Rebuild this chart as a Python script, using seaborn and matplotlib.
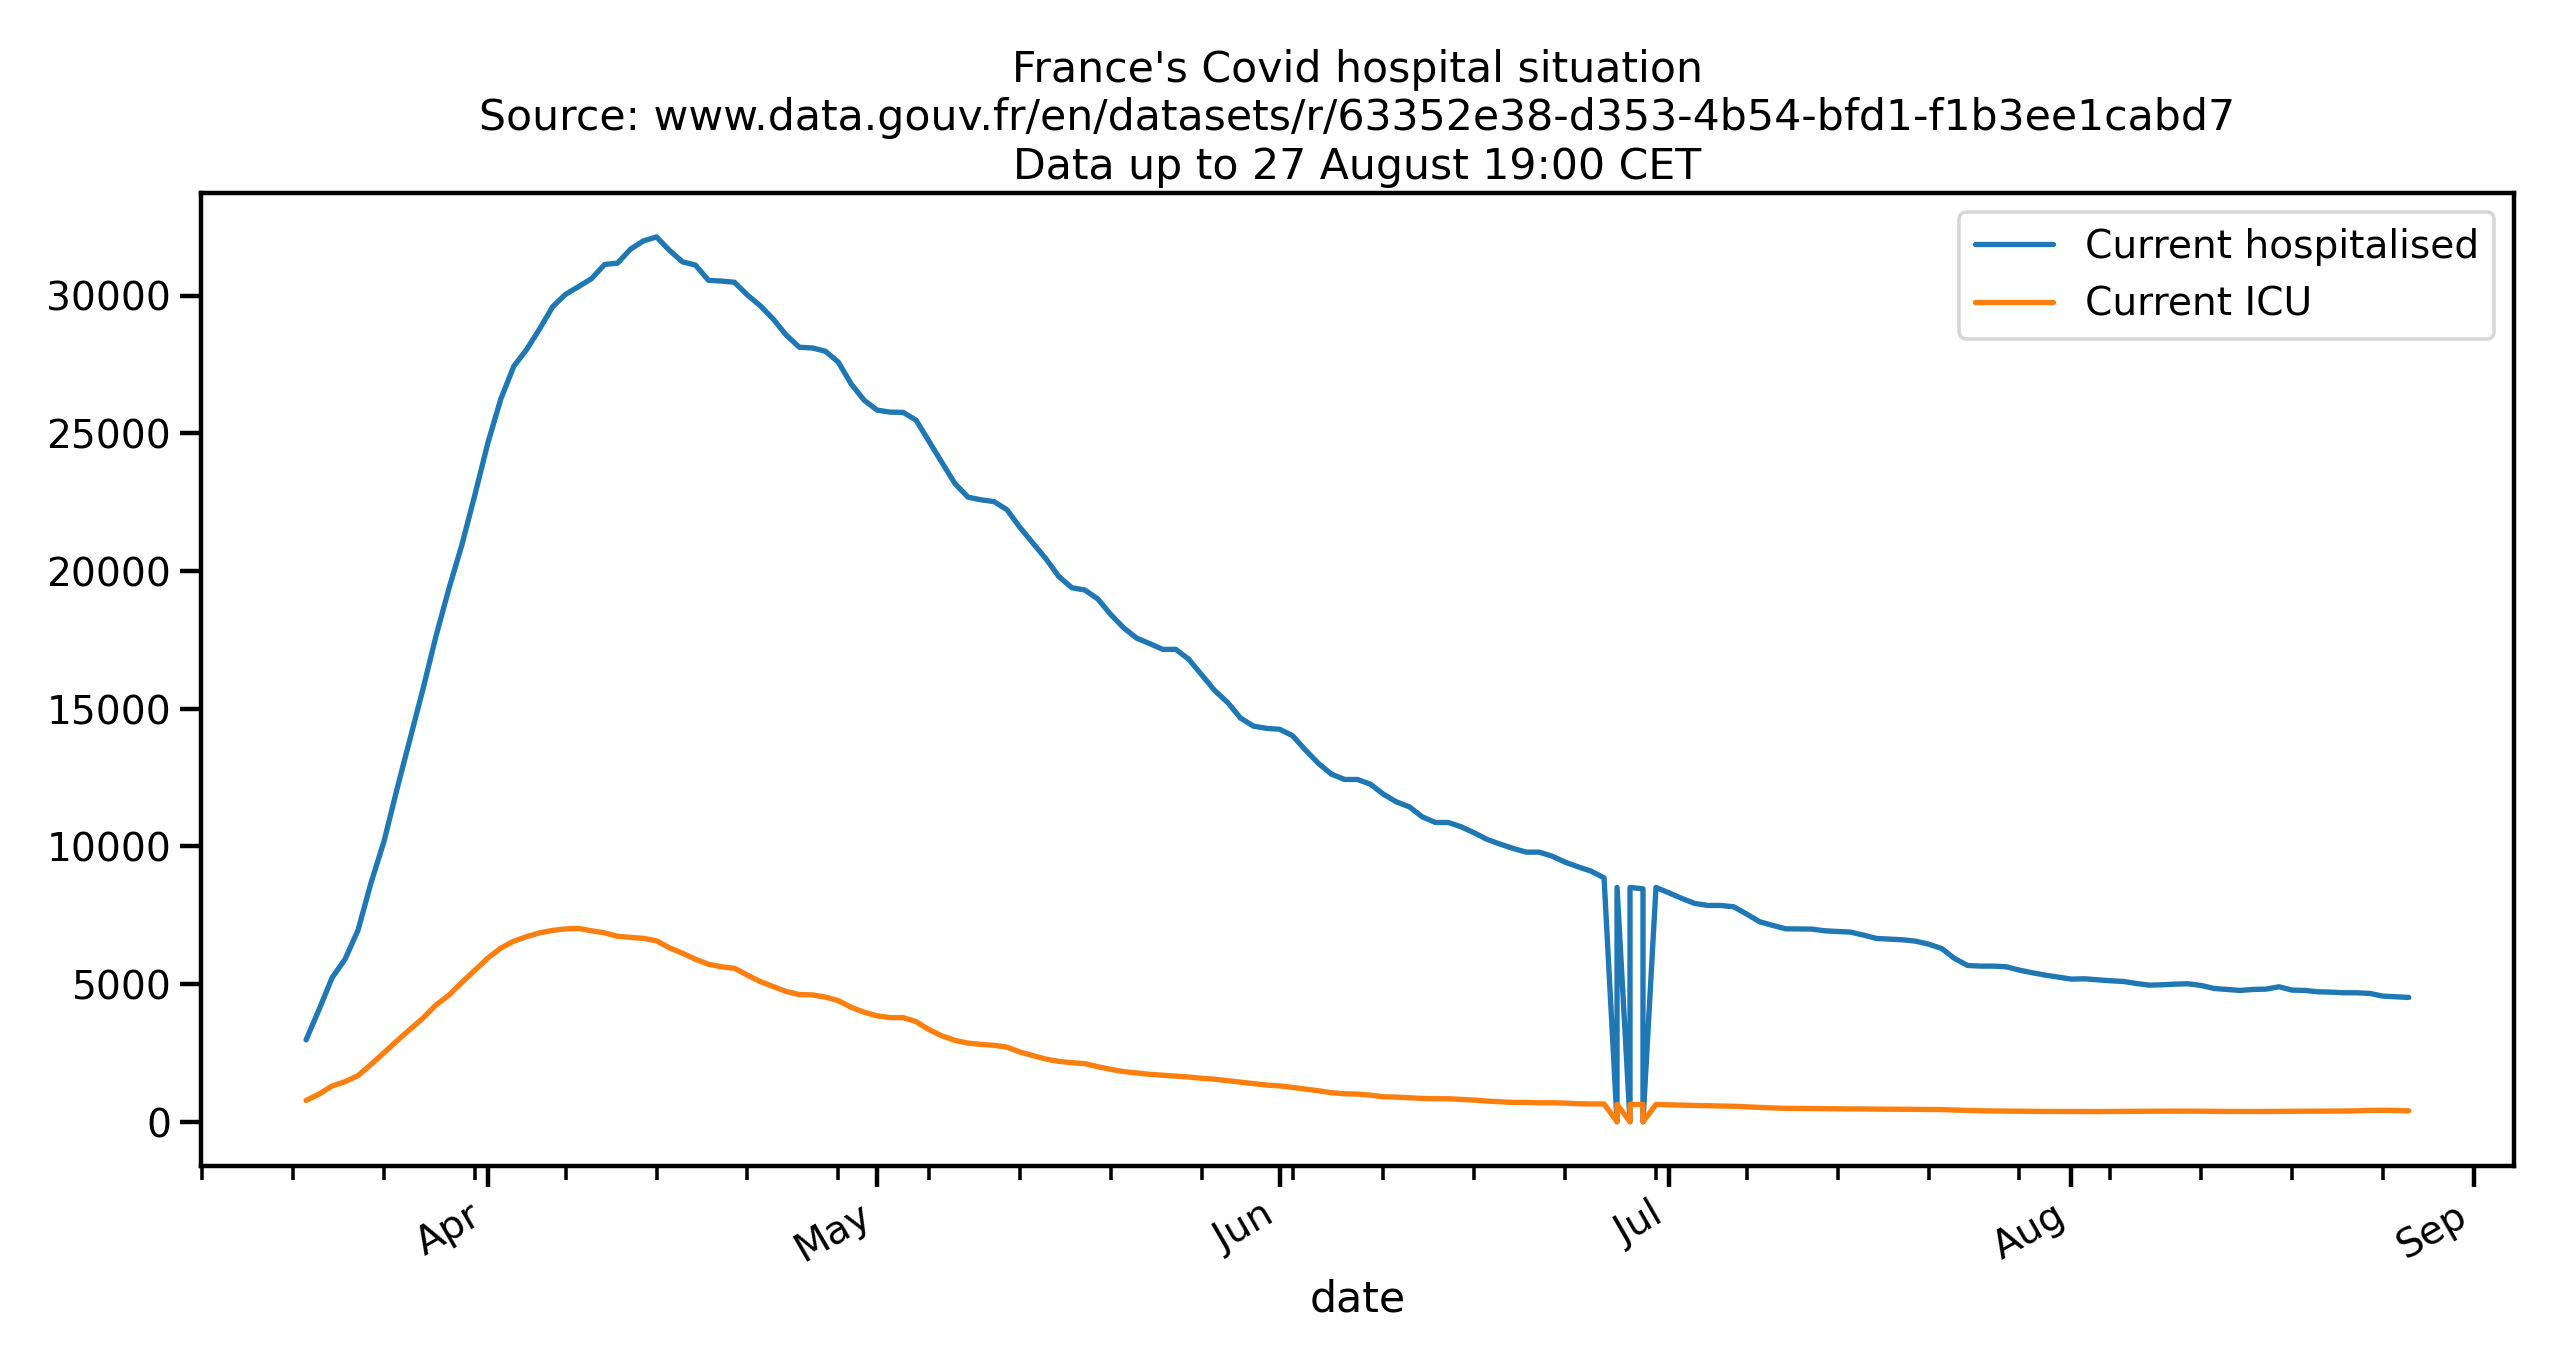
import matplotlib
matplotlib.use("Agg")
import matplotlib.pyplot as plt
import matplotlib.dates as mdates
import numpy as np
import pandas as pd
import seaborn as sns

# ---------------- data ----------------
start_date = "2020-03-18"
end_date = "2020-08-27"

# one value per day, 18 March -> 27 August 2020
hospitalised = [
    2972, 4073, 5226, 5900, 6954, 8673, 10176, 12072, 13879, 15701,
    17620, 19354, 20946, 22757, 24639, 26246, 27432, 28050, 28800, 29600,
    30050, 30330, 30620, 31133, 31182, 31690, 31990, 32131, 31641, 31227,
    31110, 30555, 30530, 30486, 30022, 29630, 29143, 28562, 28126, 28100,
    27984, 27588, 26790, 26200, 25840, 25770, 25760, 25475, 24700, 23930,
    23167, 22680, 22585, 22520, 22225, 21580, 21010, 20443, 19797, 19390,
    19310, 18983, 18417, 17930, 17559, 17363, 17153, 17153, 16797, 16230,
    15660, 15225, 14655, 14364, 14285, 14252, 14020, 13493, 13010, 12621,
    12429, 12429, 12258, 11895, 11616, 11434, 11071, 10867, 10867, 10708,
    10490, 10250, 10079, 9923, 9789, 9789, 9644, 9426, 9256, 9100,
    8856, 0, 0, 8457, 8507, 8312, 8107, 7925, 7853, 7853,
    7803, 7537, 7259, 7127, 7005, 7000, 6995, 6932, 6908, 6884,
    6775, 6655, 6630, 6606, 6558, 6449, 6292, 5929, 5675, 5650,
    5650, 5625, 5504, 5408, 5323, 5250, 5178, 5190, 5154, 5118,
    5094, 5021, 4960, 4972, 4996, 5009, 4948, 4839, 4803, 4767,
    4803, 4815, 4900, 4779, 4767, 4718, 4706, 4682, 4682, 4658,
    4561, 4537, 4513,
]

icu = [
    771, 1002, 1297, 1453, 1674, 2080, 2503, 2935, 3351, 3758,
    4236, 4592, 5056, 5496, 5940, 6305, 6556, 6723, 6859, 6948,
    7004, 7019, 6932, 6859, 6732, 6696, 6659, 6568, 6314, 6118,
    5900, 5719, 5628, 5574, 5323, 5087, 4905, 4727, 4618, 4605,
    4527, 4397, 4154, 3976, 3845, 3780, 3780, 3635, 3341, 3115,
    2952, 2854, 2807, 2774, 2709, 2531, 2404, 2273, 2190, 2142,
    2110, 1997, 1899, 1819, 1768, 1721, 1688, 1656, 1623, 1576,
    1543, 1490, 1440, 1380, 1330, 1300, 1245, 1184, 1123, 1051,
    1015, 1003, 966, 906, 894, 870, 845, 833, 833, 809,
    785, 749, 724, 700, 700, 688, 688, 676, 652, 645,
    645, 0, 0, 625, 625, 612, 600, 590, 580, 570,
    560, 540, 520, 500, 485, 480, 475, 470, 468, 465,
    462, 460, 458, 455, 452, 450, 440, 425, 410, 395,
    390, 385, 380, 375, 372, 370, 365, 365, 368, 372,
    375, 378, 380, 382, 385, 385, 380, 375, 372, 370,
    368, 370, 375, 378, 380, 382, 385, 388, 395, 410,
    415, 405, 395,
]

# duplicated report rows for the late-June glitch
extra_dates = ["2020-06-27", "2020-06-28", "2020-06-29"]
extra_hospitalised = [8507, 8507, 0]
extra_icu = [625, 625, 0]

title_lines = [
    "France's Covid hospital situation",
    "Source: www.data.gouv.fr/en/datasets/r/63352e38-d353-4b54-bfd1-f1b3ee1cabd7",
    "Data up to 27 August 19:00 CET",
]
series_labels = ["Current hospitalised", "Current ICU"]

# ---------------- build table ----------------
daily = pd.DataFrame({
    "date": pd.date_range(start_date, end_date, freq="D"),
    "hosp": hospitalised,
    "icu": icu,
    "order": 0,
})
extra = pd.DataFrame({
    "date": pd.to_datetime(extra_dates),
    "hosp": extra_hospitalised,
    "icu": extra_icu,
    "order": 1,
})
df = pd.concat([daily, extra], ignore_index=True)
df = df.sort_values(["date", "order"], kind="stable").reset_index(drop=True)

# ---------------- plot ----------------
sns.set_theme(context="talk", style="ticks")
plt.rcParams["font.family"] = ["DejaVu Sans"]
for key in ["text.color", "axes.labelcolor", "xtick.color", "ytick.color",
            "axes.edgecolor"]:
    plt.rcParams[key] = "black"

DPI = 2560 / 15
fig = plt.figure(figsize=(15, 8), dpi=DPI)
ax = fig.add_axes([0.0785, 0.1458, 0.9035, 0.7128])

palette = sns.color_palette("tab10")
sns.lineplot(data=df, x="date", y="hosp", ax=ax, estimator=None, sort=False,
             color=palette[0], label=series_labels[0])
sns.lineplot(data=df, x="date", y="icu", ax=ax, estimator=None, sort=False,
             color=palette[1], label=series_labels[1])

ax.xaxis.set_major_locator(mdates.MonthLocator())
ax.xaxis.set_major_formatter(mdates.DateFormatter("%b"))
ax.xaxis.set_minor_locator(mdates.WeekdayLocator(byweekday=mdates.TU))
ax.yaxis.set_minor_locator(matplotlib.ticker.NullLocator())
ax.margins(x=0.05, y=0.05)

for lab in ax.get_xticklabels():
    lab.set_rotation(30)
    lab.set_ha("right")

ax.set_xlabel("date")
ax.set_ylabel("")
ax.set_title("\n".join(title_lines))
ax.legend(loc="upper right")

fig.savefig("out.png", dpi=DPI)
